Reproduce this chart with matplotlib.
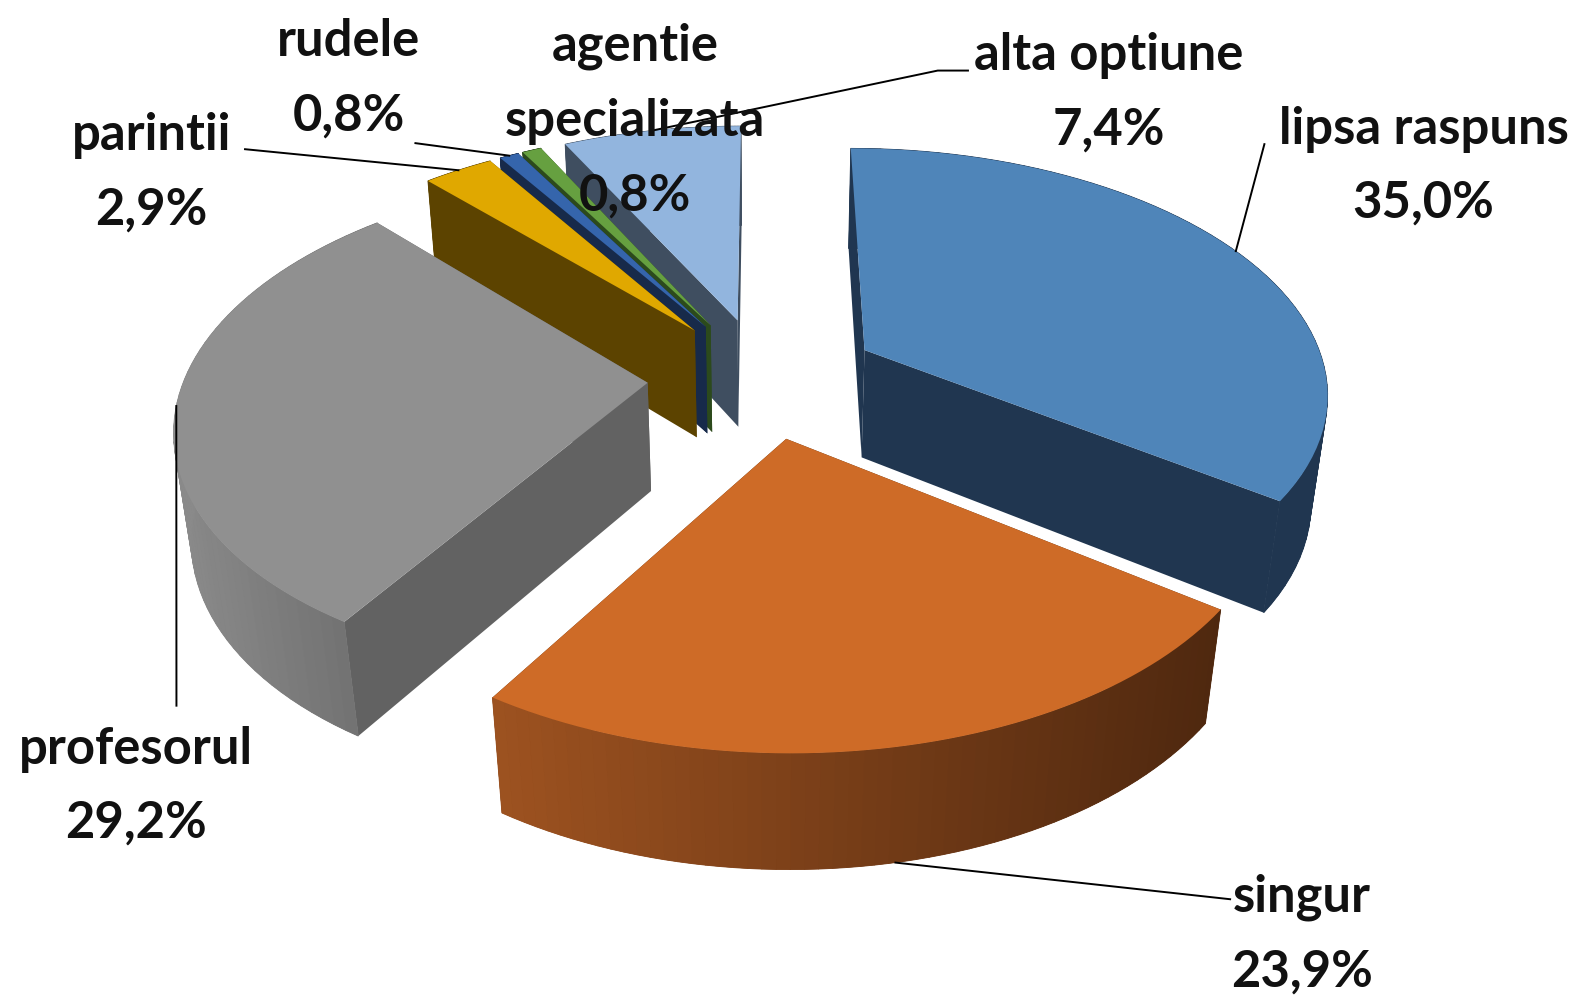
import numpy as np
import matplotlib
matplotlib.use("Agg")
import matplotlib.pyplot as plt
from matplotlib.colors import to_rgb

# Chart data
NAMES = ["lipsa raspuns", "singur", "profesorul", "parintii", "rudele", "agentie\nspecializata", "alta optiune"]
VALUES = [35.0, 23.9, 29.2, 2.9, 0.8, 0.8, 7.4]

# Slice colours: top face, wall, rim left, rim right
TOP_COLOURS = ["#4f85b9", "#ce6b27", "#909090", "#e0a800", "#3565ac", "#66a040", "#92b5de"]
WALL_COLOURS = ["#203650", "#552c10", "#626262", "#5c4300", "#172a4a", "#2c4a1c", "#3f4e60"]
RIM_LEFT = ["#203650", "#9d5220", "#8a8a8a", "#5c4300", "#172a4a", "#2c4a1c", "#3f4e60"]
RIM_RIGHT = ["#203650", "#4f280f", "#6e6e6e", "#5c4300", "#172a4a", "#2c4a1c", "#3f4e60"]

# Label text centres and leader elbows, in picture pixels
LABEL_POS = [(1412, 165), (1291, 927), (135, 780), (150, 171), (346, 78), (630, 120), (1100, 92)]
LEADER_BENDS = [[(1254, 143)], [(1220, 892)], [(175, 700)], [(243, 148)], [(412, 142)], [], [(960, 70), (930, 70)]]
LEADER_ON_BOTTOM = [False, True, False, False, False, False, False]

# Projection settings
CX, CY = 757, 374
RX, RY = 459, 240
PERSP = 0.16
HEIGHT = 110
EXPLODE = 0.25


def project(u, v, z=0.0):
    # u goes right, v goes away from the viewer, z goes down
    w = 1 + PERSP * v + 0.03 * z
    return CX + RX * u / w, CY - RY * v / w + HEIGHT * z / w ** 0.85


def slice_points(start, end, mid, z=0.0, n=60):
    off_u, off_v = EXPLODE * np.sin(mid), EXPLODE * np.cos(mid)
    t = np.linspace(start, end, n)
    rim = project(off_u + np.sin(t), off_v + np.cos(t), z)
    apex = project(off_u, off_v, z)
    return apex, rim


fig = plt.figure(figsize=(15.81, 9.96), dpi=100)
ax = fig.add_axes([0, 0, 1, 1])
ax.set_xlim(0, 1568)
ax.set_ylim(988, 0)
ax.axis("off")

shares = np.array(VALUES) / sum(VALUES)
edges = np.concatenate([[0], np.cumsum(shares)]) * 2 * np.pi
mids = (edges[:-1] + edges[1:]) / 2

# Far slices first, near slices on top of them
for i in [6, 5, 4, 3, 2, 0, 1]:
    start, end, mid = edges[i], edges[i + 1], mids[i]
    apex, rim = slice_points(start, end, mid)
    apex_b, rim_b = slice_points(start, end, mid, z=1.0)

    # radial walls
    for k in (0, -1):
        ax.fill([apex[0], rim[0][k], rim_b[0][k], apex_b[0]],
                [apex[1], rim[1][k], rim_b[1][k], apex_b[1]],
                color=WALL_COLOURS[i], lw=0, zorder=1)

    # outer rim, shaded quad by quad from left to right
    left, right = np.array(to_rgb(RIM_LEFT[i])), np.array(to_rgb(RIM_RIGHT[i]))
    ax.fill(np.r_[rim[0], rim_b[0][::-1]], np.r_[rim[1], rim_b[1][::-1]],
            color=(left + right) / 2, lw=0, zorder=1)
    xs, xe = rim[0].min(), rim[0].max()
    for j in range(len(rim[0]) - 1):
        f = ((rim[0][j] + rim[0][j + 1]) / 2 - xs) / max(xe - xs, 1)
        ax.fill([rim[0][j], rim[0][j + 1], rim_b[0][j + 1], rim_b[0][j]],
                [rim[1][j], rim[1][j + 1], rim_b[1][j + 1], rim_b[1][j]],
                color=left + (right - left) * f, lw=0.6, zorder=1)

    ax.fill(np.r_[apex[0], rim[0]], np.r_[apex[1], rim[1]], color=TOP_COLOURS[i], lw=0, zorder=1)

# Leaders and labels
for i, name in enumerate(NAMES):
    z = 1.0 if LEADER_ON_BOTTOM[i] else 0.0
    off_u, off_v = EXPLODE * np.sin(mids[i]), EXPLODE * np.cos(mids[i])
    end_x, end_y = project(off_u + np.sin(mids[i]), off_v + np.cos(mids[i]), z)
    if LEADER_BENDS[i]:
        bx, by = zip(*LEADER_BENDS[i])
        ax.plot([*bx, end_x], [*by, end_y], color="black", lw=1.4, zorder=3)
    text = f"{name}\n{VALUES[i]:.1f}%".replace(".", ",")
    ax.text(*LABEL_POS[i], text, ha="center", va="center", fontsize=36.5, family="Lato",
            fontweight="bold", linespacing=1.72, color="#111111", zorder=4)

fig.savefig("out.png", dpi=100, facecolor="white")
